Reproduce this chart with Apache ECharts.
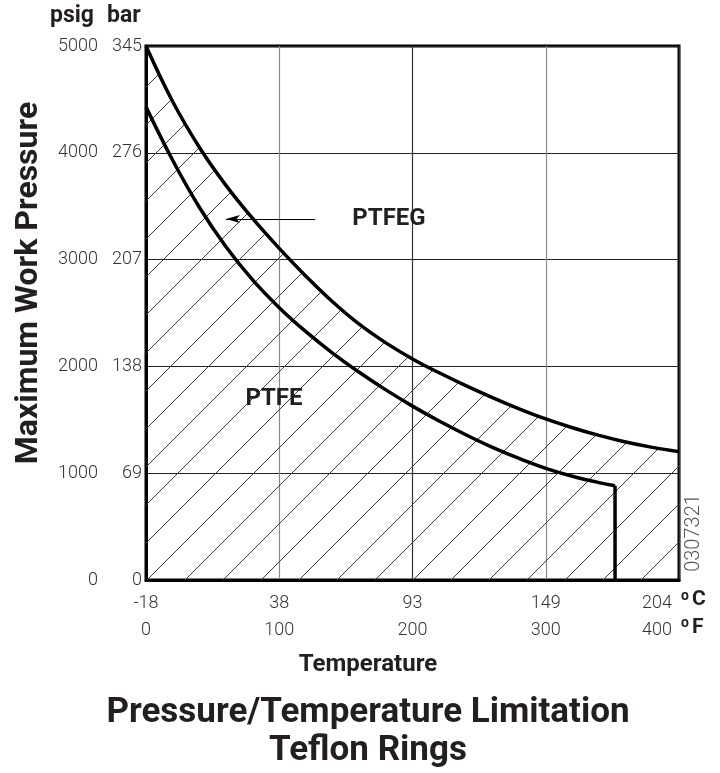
<!DOCTYPE html>
<html><head><meta charset="utf-8">
<script src="https://cdn.jsdelivr.net/npm/echarts@6/dist/echarts.min.js"></script>
<style>html,body{margin:0;padding:0;background:#fff}#c{width:720px;height:773px}</style>
</head><body><div id="c"></div>
<script>
// Tick labels
const tempFTicks = [0, 100, 200, 300, 400];
const tempCTicks = ['-18', '38', '93', '149', '204'];
const psigTicks = [0, 1000, 2000, 3000, 4000, 5000];
const barTicks = ['0', '69', '138', '207', '276', '345'];

// PTFEG limit curve (temperature °F, pressure psig)
const ptfegTemp = [0, 20, 40, 60, 80, 100, 120, 140, 160, 180, 200, 220, 240, 260, 280, 300, 320, 340, 360, 380, 400];
const ptfegPsig = [5000, 4480, 4052, 3695, 3385, 3105, 2845, 2605, 2395, 2220, 2070, 1940, 1820, 1708, 1603, 1508, 1426, 1354, 1292, 1242, 1202];

// PTFE limit curve
const ptfeTemp = [0, 20, 40, 60, 80, 100, 120, 140, 160, 180, 200, 220, 240, 260, 280, 300, 320, 340, 352];
const ptfePsig = [4430, 3930, 3490, 3120, 2810, 2550, 2325, 2125, 1945, 1780, 1628, 1488, 1360, 1242, 1138, 1046, 972, 912, 883];
// PTFE cut-off at max temperature
const ptfeCutTemp = [352, 352];
const ptfeCutPsig = [883, 0];

// Arrow pointing to PTFEG band
const arrowTemp = [127, 60];
const arrowPsig = [3380, 3380];

const zip = (a, b) => a.map((v, i) => [v, b[i]]);

// hatch pattern (45° lines)
const P = 38;
const cv = document.createElement('canvas');
cv.width = P; cv.height = P;
const ctx = cv.getContext('2d');
ctx.strokeStyle = '#3a3a3a';
ctx.lineWidth = 1;
for (let k = -2; k <= 3; k++) {
  const c = 5 + k * P;
  ctx.beginPath();
  ctx.moveTo(c + P, -P);
  ctx.lineTo(c - 2 * P, 2 * P);
  ctx.stroke();
}

const chart = echarts.init(document.getElementById('c'), null, {renderer: 'canvas'});
const numFont = {fontFamily: 'Roboto', fontWeight: 300, fontSize: 18, color: '#333'};
const boldFont = {fontFamily: 'Roboto', fontWeight: 'bold', fill: '#231f20'};

chart.setOption({
  animation: false,
  backgroundColor: '#fff',
  grid: {left: 146, right: 41, top: 46, bottom: 193, show: true, borderColor: '#000', borderWidth: 3, backgroundColor: 'transparent'},
  xAxis: {
    type: 'value', min: 0, max: 400, interval: 100,
    axisLine: {show: true, lineStyle: {color: '#000', width: 3}},
    axisTick: {show: false},
    splitLine: {show: true, lineStyle: {color: ['#777', '#8a8a8a', '#333', '#8a8a8a', '#333'], width: 1.2}},
    axisLabel: Object.assign({
      margin: 10, lineHeight: 27, showMinLabel: true, showMaxLabel: true, hideOverlap: false,
      alignMaxLabel: 'right',
      formatter: v => {
        const i = tempFTicks.indexOf(v);
        if (i === tempFTicks.length - 1) return '{m|' + tempCTicks[i] + '}\n{m|' + v + '}';
        return tempCTicks[i] + '\n' + v;
      },
      rich: {m: Object.assign({lineHeight: 27, padding: [0, 7, 0, 0]}, numFont)}
    }, numFont)
  },
  yAxis: [{
    type: 'value', min: 0, max: 5000, interval: 1000, position: 'left',
    axisLine: {show: true, lineStyle: {color: '#000', width: 3}},
    axisTick: {show: false},
    splitLine: {show: true, lineStyle: {color: '#222', width: 1}},
    axisLabel: Object.assign({margin: 4, showMinLabel: true, showMaxLabel: true,
      formatter: v => barTicks[psigTicks.indexOf(v)]}, numFont)
  }, {
    type: 'value', min: 0, max: 5000, interval: 1000, position: 'left', offset: 44,
    axisLine: {show: false}, axisTick: {show: false}, splitLine: {show: false},
    axisLabel: Object.assign({margin: 4, showMinLabel: true, showMaxLabel: true,
      formatter: v => String(v)}, numFont)
  }],
  series: [{
    name: 'PTFEG', type: 'line', smooth: 0.4, symbol: 'none',
    data: zip(ptfegTemp, ptfegPsig),
    lineStyle: {color: '#000', width: 3.5},
    areaStyle: {color: {image: cv, repeat: 'repeat'}, opacity: 1, origin: 'start'},
    z: 3,
    markLine: {
      silent: true, symbol: ['none', 'arrow'], symbolSize: [6, 14],
      label: {show: false},
      lineStyle: {color: '#000', width: 1, type: 'solid'},
      data: [[{coord: [arrowTemp[0], arrowPsig[0]]}, {coord: [arrowTemp[1], arrowPsig[1]]}]]
    }
  }, {
    name: 'PTFE', type: 'line', smooth: 0.4, symbol: 'none',
    data: zip(ptfeTemp, ptfePsig),
    lineStyle: {color: '#000', width: 3.5}, z: 4
  }, {
    name: 'PTFE cut', type: 'line', symbol: 'none',
    data: zip(ptfeCutTemp, ptfeCutPsig),
    lineStyle: {color: '#000', width: 3.5}, z: 4
  }],
  graphic: [
    {type: 'text', left: 50, top: 5, style: Object.assign({text: 'psig', fontSize: 23}, boldFont)},
    {type: 'text', left: 107, top: 5, style: Object.assign({text: 'bar', fontSize: 23}, boldFont)},
    {type: 'text', x: 29, y: 283, rotation: Math.PI / 2,
      style: Object.assign({text: 'Maximum Work Pressure', fontSize: 32, align: 'center', verticalAlign: 'middle'}, boldFont)},
    {type: 'text', x: 368, y: 665, style: Object.assign({text: 'Temperature', fontSize: 24, align: 'center', verticalAlign: 'middle'}, boldFont)},
    {type: 'text', x: 368, y: 713, style: Object.assign({text: 'Pressure/Temperature Limitation', fontSize: 35, align: 'center', verticalAlign: 'middle'}, boldFont)},
    {type: 'text', x: 368, y: 751, style: Object.assign({text: 'Teflon Rings', fontSize: 35, align: 'center', verticalAlign: 'middle'}, boldFont)},
    {type: 'text', x: 389, y: 219, z: 10, style: Object.assign({text: 'PTFEG', fontSize: 24, align: 'center', verticalAlign: 'middle'}, boldFont)},
    {type: 'text', x: 274, y: 399, z: 10, style: Object.assign({text: 'PTFE', fontSize: 24, align: 'center', verticalAlign: 'middle'}, boldFont)},
    {type: 'text', x: 685, y: 596, style: Object.assign({text: 'o', fontSize: 14, align: 'center', verticalAlign: 'middle'}, boldFont)},
    {type: 'text', x: 692, y: 600, style: Object.assign({text: 'C', fontSize: 21, align: 'left', verticalAlign: 'middle'}, boldFont)},
    {type: 'text', x: 685, y: 623, style: Object.assign({text: 'o', fontSize: 14, align: 'center', verticalAlign: 'middle'}, boldFont)},
    {type: 'text', x: 692, y: 628, style: Object.assign({text: 'F', fontSize: 21, align: 'left', verticalAlign: 'middle'}, boldFont)},
    {type: 'text', x: 694, y: 533, rotation: Math.PI / 2,
      style: {text: '0307321', fontFamily: 'Roboto', fontWeight: 300, fontSize: 20, fill: '#555', align: 'center', verticalAlign: 'middle'}}
  ]
});
</script></body></html>
